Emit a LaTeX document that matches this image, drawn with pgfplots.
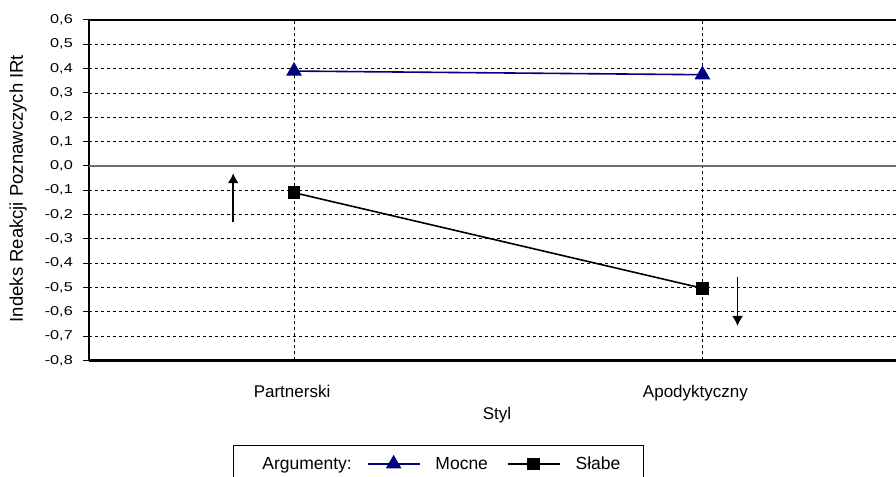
\documentclass[border=0pt]{standalone}
\usepackage{fontspec}
\setmainfont{Liberation Sans}
\newfontfamily\tickfont[FakeStretch=1.27]{Liberation Sans}
\usepackage{pgfplots}
\pgfplotsset{compat=1.18}
\usetikzlibrary{arrows.meta}
\definecolor{navyblue}{RGB}{0,0,128}
\definecolor{zeroline}{RGB}{110,110,110}
\begin{document}
\begin{tikzpicture}
\begin{axis}[
  at={(89bp,116.5bp)}, anchor=south west,
  scale only axis,
  width=807bp, height=340.5bp,
  xmin=-0.502, xmax=1.474,
  ymin=-0.8, ymax=0.6,
  axis x line*=box, axis y line*=left,
  x axis line style={-, line width=2bp, black},
  y axis line style={-, line width=1.5bp, black},
  xtick={0,1},
  xticklabels={\hspace*{-4bp}Partnerski, \hspace*{-14bp}Apodyktyczny},
  xtick style={draw=none},
  ytick={-0.8,-0.7,...,0.6},
  tick align=outside,
  major tick length=6bp,
  ytick style={black, line width=1bp},
  /pgf/number format/assume math mode=true,
  yticklabel={\pgfmathprintnumber[fixed, fixed zerofill, precision=1, use comma]{\tick}},
  yticklabel style={font=\tickfont\fontsize{12.8bp}{15bp}\selectfont, anchor=east, inner sep=0pt, xshift=-10bp},
  xticklabel style={font=\fontsize{17bp}{20bp}\selectfont, anchor=north, inner sep=0pt, yshift=-18bp},
  xmajorgrids, ymajorgrids,
  major grid style={black, line width=0.8bp, dash pattern=on 3bp off 3bp},
  xlabel={Styl},
  xlabel style={font=\fontsize{17bp}{20bp}\selectfont, at={(axis description cs:0.5056,-0.16)}, anchor=center},
  ylabel={Indeks Reakcji Poznawczych IRt},
  ylabel style={font=\fontsize{18.5bp}{20bp}\selectfont, at={(axis description cs:-0.088,0.505)}, anchor=center},
  legend columns=-1,
  legend image code/.code={\draw[mark repeat=2,mark phase=2,#1] plot coordinates {(0bp,0bp)(26bp,0bp)(52bp,0bp)};},
  legend style={at={(axis description cs:0.1784,-0.2482)}, anchor=north west,
    draw=black, line width=0.8bp, column sep=15bp,
    inner xsep=14bp, inner ysep=11bp,
    font=\fontsize{17.5bp}{20bp}\selectfont,
    nodes={inner sep=0pt}},
]
\addlegendimage{empty legend}
\addlegendentry{Argumenty:}
\draw[zeroline, line width=1.4bp] (axis cs:-0.502,0) -- (axis cs:1.474,0);
\addplot[navyblue, line width=1.6bp, mark=triangle*, mark size=7.5bp, mark options={solid, fill=navyblue}] coordinates {(0,0.39) (1,0.375)};
\addlegendentry{Mocne\rule{4bp}{0pt}}
\addplot[black, line width=1.6bp, mark=square*, mark size=5.5bp, mark options={solid, fill=black}] coordinates {(0,-0.11) (1,-0.503)};
\addlegendentry{Słabe\rule{9bp}{0pt}}
\draw[-{Latex[length=10bp,width=11bp]}, line width=1.6bp, black] (axis cs:-0.149,-0.232) -- (axis cs:-0.149,-0.03);
\draw[-{Latex[length=10bp,width=11bp]}, line width=1.6bp, black] (axis cs:1.086,-0.455) -- (axis cs:1.086,-0.658);
\end{axis}
\pgfresetboundingbox
\path[use as bounding box] (0,0) rectangle (896bp,477bp);
\end{tikzpicture}
\end{document}
